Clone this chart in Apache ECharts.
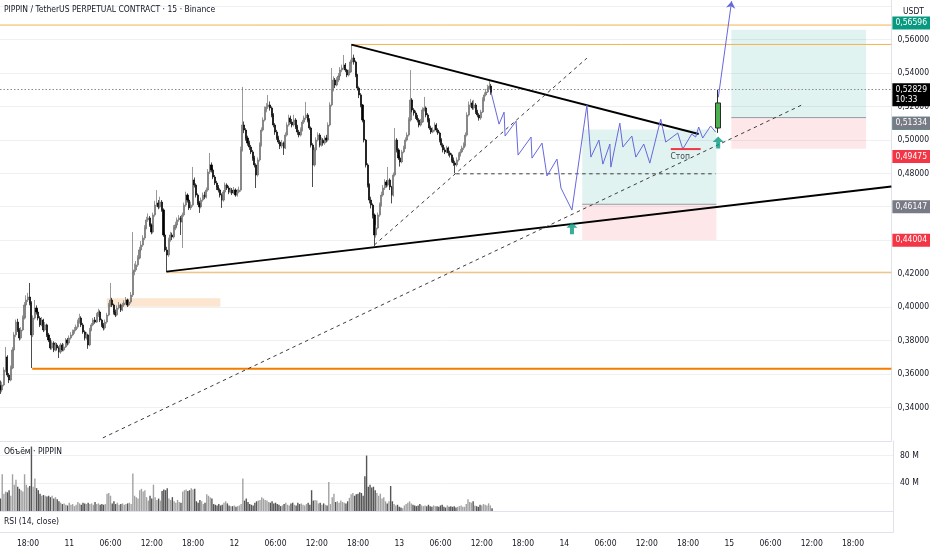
<!DOCTYPE html>
<html><head><meta charset="utf-8">
<script src="https://cdn.jsdelivr.net/npm/echarts@6/dist/echarts.min.js"></script>
<style>html,body{margin:0;padding:0;background:#fff}#c{width:932px;height:550px}</style>
</head><body><div id="c"></div>
<script>
// ---------------- DATA ----------------
// time unit: hours since 10 Jan 00:00 ; 15-minute candles
const candleStartHour = 14;
const candleStepHours = 0.25;
// prices in 1e-4 USDT
const firstOpen = 3530;
const closes = [
3504,3534,3623,3701,3593,3563,3635,3743,3833,3910,
3863,3815,3863,3934,4012,4042,4060,4024,3833,3934,
3994,3970,3934,3893,3922,3863,3893,3833,3803,3755,
3785,3743,3773,3755,3731,3773,3743,3761,3803,3785,
3815,3833,3851,3863,3881,3910,3934,3893,3851,3815,
3833,3773,3863,3893,3922,3910,3952,3970,3922,3893,
3875,3910,3952,4012,4042,4012,3970,3952,3994,4012,
3982,4012,4024,4042,4012,4030,4072,4210,4222,4252,
4293,4341,4371,4413,4473,4521,4533,4491,4449,4551,
4610,4622,4599,4628,4581,4431,4341,4311,4401,4431,
4419,4473,4491,4521,4533,4509,4551,4610,4670,4640,
4593,4610,4760,4730,4670,4622,4599,4640,4670,4658,
4700,4808,4850,4820,4778,4742,4718,4700,4670,4640,
4688,4730,4712,4688,4700,4682,4700,4670,4688,4700,
4940,5089,5059,5011,4981,4957,4928,4892,4850,4790,
4880,4969,5059,5119,5179,5197,5209,5191,5149,5089,
5047,5011,4987,4963,4981,4952,5029,5089,5131,5107,
5089,5119,5077,5047,5029,5059,5107,5131,5149,5119,
5071,4969,4850,4940,4999,5029,4969,4999,4981,5011,
4999,5089,5209,5299,5358,5328,5358,5382,5418,5430,
5448,5418,5388,5406,5466,5490,5466,5388,5310,5269,
5209,5119,4999,4850,4730,4640,4610,4551,4431,4473,
4551,4610,4670,4712,4748,4730,4760,4718,4670,4790,
4999,4940,4892,4868,4928,4952,4999,5029,5119,5239,
5179,5161,5137,5119,5089,5107,5179,5191,5149,5119,
5071,5047,5059,5089,5059,5041,4999,4969,4940,4928,
4952,4922,4910,4880,4862,4850,4880,4910,4928,4952,
4969,5029,5149,5209,5221,5191,5209,5167,5149,5131,
5167,5239,5269,5287,5310,5322,5282.9
];
const highs = [
3560,3552,3640,3761,3712,3605,3650,3760,3850,3925,
3930,3875,3880,3950,4030,4070,4085,4144,4035,3950,
4042,4010,3985,3945,3940,3930,3910,3900,3845,3815,
3800,3795,3790,3785,3765,3785,3785,3780,3815,3815,
3830,3850,3865,3880,3895,3925,3960,3945,3905,3860,
3850,3840,3875,3905,3935,3940,3965,3990,3980,3930,
3905,3925,3965,4025,4144,4055,4020,3985,4010,4030,
4020,4025,4040,4060,4050,4045,4090,4449,4260,4275,
4310,4360,4395,4430,4490,4540,4560,4545,4500,4565,
4635,4700,4640,4660,4640,4590,4445,4360,4415,4450,
4445,4490,4510,4535,4550,4545,4565,4625,4690,4680,
4650,4630,4838,4775,4740,4680,4635,4655,4685,4690,
4715,4825,4922,4865,4830,4790,4755,4730,4710,4680,
4700,4745,4740,4725,4715,4712,4718,4710,4705,4720,
4960,5317,5110,5070,5025,4995,4970,4940,4905,4860,
4895,4985,5075,5135,5200,5220,5269,5230,5200,5160,
5100,5060,5025,5000,5000,4990,5045,5105,5150,5145,
5125,5150,5130,5090,5060,5075,5120,5145,5227,5160,
5130,5080,4980,4955,5015,5045,5040,5015,5010,5025,
5030,5105,5225,5430,5380,5370,5375,5400,5435,5450,
5508,5460,5425,5420,5480,5570,5510,5475,5395,5320,
5280,5215,5125,5005,4860,4740,4660,4620,4560,4490,
4565,4625,4690,4730,4765,4760,4838,4770,4725,4805,
5071,5010,4950,4905,4940,4965,5015,5045,5135,5418,
5250,5190,5175,5150,5130,5125,5195,5257,5200,5160,
5130,5085,5075,5105,5100,5070,5050,5010,4980,4955,
4965,4960,4935,4920,4895,4875,4895,4925,4945,4965,
4985,5045,5165,5230,5245,5235,5240,5220,5180,5160,
5180,5255,5285,5305,5330,5358,5335
];
const lows = [
3480,3490,3525,3610,3580,3545,3555,3628,3735,3820,
3850,3800,3805,3855,3925,4000,4030,4010,3635,3820,
3925,3955,3920,3880,3885,3850,3855,3820,3790,3745,
3745,3730,3735,3740,3695,3720,3735,3735,3755,3770,
3775,3805,3825,3840,3855,3870,3900,3880,3840,3800,
3805,3750,3765,3855,3885,3900,3905,3940,3910,3880,
3860,3865,3900,3945,4000,4000,3955,3940,3945,3985,
3970,3975,4000,4015,4000,4005,4020,4060,4190,4210,
4240,4285,4330,4360,4400,4465,4510,4480,4435,4440,
4540,4600,4585,4590,4570,4420,4330,4210,4300,4390,
4400,4410,4460,4480,4510,4431,4353,4540,4600,4625,
4580,4580,4600,4715,4655,4610,4563,4590,4630,4645,
4650,4690,4795,4805,4765,4730,4700,4685,4655,4593,
4630,4680,4700,4675,4680,4670,4675,4660,4660,4680,
4690,4930,5040,4995,4965,4940,4915,4875,4835,4712,
4780,4870,4960,5050,5110,5165,5185,5175,5135,5075,
5030,5000,4975,4945,4950,4910,4945,5020,5080,5095,
5075,5080,5065,5030,5015,5020,5050,5095,5120,5105,
5060,4955,4718,4840,4930,4990,4955,4960,4965,4970,
4985,4990,5080,5200,5290,5310,5320,5345,5370,5405,
5420,5405,5375,5380,5400,5455,5450,5375,5295,5250,
5195,5105,4985,4835,4715,4620,4590,4530,4365,4415,
4465,4540,4600,4660,4700,4715,4720,4700,4620,4660,
4780,4925,4880,4840,4860,4920,4945,4990,5020,5110,
5165,5145,5125,5105,5075,5080,5100,5170,5135,5105,
5060,5035,5040,5050,5045,5030,4985,4955,4925,4915,
4920,4905,4895,4865,4845,4800,4840,4870,4900,4920,
4940,4960,5020,5140,5195,5180,5180,5155,5135,5115,
5120,5160,5230,5260,5280,5300,5270
];
// volume, millions
const volumesM = [
18,53,25,28,27,30,22,53,38,45,
35,32,30,28,53,38,34,36,93,35,
47,33,30,25,22,23,22,21,22,20,
22,18,20,17,14,12,10,11,9,8,
12,9,10,7,9,13,11,9,12,11,
10,12,10,11,9,13,10,11,9,10,
9,10,25,26,22,11,14,10,12,9,
10,11,9,10,11,12,10,54,22,20,
18,30,32,28,30,20,15,22,18,38,
20,16,18,15,29,31,30,33,18,16,
20,14,12,16,13,12,28,30,31,29,
30,33,31,32,14,12,16,14,10,12,
24,22,20,18,10,9,8,10,8,9,
12,14,11,8,7,7,8,6,7,8,
10,47,15,18,13,10,9,8,12,14,
15,16,20,18,16,15,13,12,14,11,
12,10,9,7,8,10,12,9,8,11,
12,9,8,12,10,11,9,8,10,12,
9,30,15,16,15,11,12,9,11,9,
8,42,10,20,25,13,14,12,15,13,
12,11,14,19,24,26,22,24,25,27,
26,22,50,80,35,38,34,35,30,26,
22,25,18,20,14,11,14,36,14,10,
8,9,6,5,4,8,10,12,14,11,
9,8,7,8,10,8,7,8,7,9,
7,6,8,7,7,6,8,9,6,5,
8,6,7,6,7,5,6,7,8,6,
6,10,17,13,12,14,8,7,6,9,
8,10,9,8,11,8,4
];

// axis ticks
const priceLabelTicks = [0.34,0.36,0.38,0.40,0.42,0.44,0.46,0.48,0.50,0.52,0.54,0.56];
const priceGridTicks = [0.34,0.36,0.38,0.40,0.42,0.44,0.46,0.48,0.50,0.52,0.54,0.56,0.58];
const timeTicks = [18,24,30,36,42,48,54,60,66,72,78,84,90,96,102,108,114,120,126,132,138];
const volumeTicks = [40,80];
const X_MIN = 13.927, X_MAX = 143.82;
const Y_MIN = 0.31984, Y_MAX = 0.58369;
const currentCountdown = '10:33';

// drawings (time in hours, price in USDT)
const blackTrendLines = [
  [[65.13, 0.5570], [115.74, 0.5035]],
  [[38.17, 0.4212], [143.82, 0.4721]]
];
const dashedLines = [
  [[28.91, 0.3217], [130.72, 0.5208]],
  [[68.47, 0.4371], [99.45, 0.5489]],
  [[80.40, 0.4797], [118.20, 0.4797]]
];
const orangeLevels = [   // [startHour, price]
  [X_MIN, 0.5687],
  [65.13, 0.5571],
  [38.17, 0.4208]
];
const supportLevel = [18.62, 0.3631];
const orangeZone = [[29.49, 0.4002], [46.03, 0.4052]];
// long positions: [startHour, endHour, entry, target, stop]
const positions = [
  [98.77, 118.32, 0.46147, 0.50620, 0.44004],
  [120.50, 140.13, 0.51334, 0.56596, 0.49475]
];
const projectionPath = [
  [85.50,0.5283],[86.65,0.5094],[87.38,0.5166],[87.53,0.5023],[89.13,0.5112],[89.42,0.4909],
  [91.31,0.5017],[91.45,0.4891],[92.91,0.4981],[93.63,0.4784],[95.09,0.4885],[95.67,0.4712],
  [97.27,0.4580],[99.45,0.5208],[100.03,0.4897],[101.20,0.4999],[101.78,0.4855],[102.80,0.4975],
  [102.94,0.4837],[104.25,0.5100],[104.69,0.4957],[106.00,0.5023],[106.58,0.4897],[107.74,0.4975],
  [108.62,0.4861],[110.21,0.5124],[110.94,0.4987],[112.69,0.5041],[113.42,0.4945],[114.72,0.5035],
  [115.30,0.5017],[115.74,0.5077],[116.32,0.5011],[117.48,0.5083],[118.21,0.5047]
];
const breakoutCandle = [118.55, 0.5071, 0.5221, 0.5042, 0.5299]; // t, o, c, l, h
const targetArrow = [[118.60, 0.5255], [120.54, 0.5830]];
const entryArrows = [[97.27, 0.4472], [118.58, 0.4984]];
const stopLine = [[111.67, 0.4945], [116.03, 0.4945]];
const stopLabel = [113.05, 0.4900, 'Стоп'];

// ---------------- CHART ----------------
const FONT = "'Liberation Sans Narrow','DejaVu Sans Condensed',Roboto,sans-serif";
const FS = 8.5;
const TXT = '#131722';
const GREEN = '#089981', RED = '#f23645', GREY = '#787b86';
const PATH_COLOR = '#6767de';
const fmtPrice = v => v.toFixed(5).replace('.', ',');
const P = v => v / 10000;

const candleData = closes.map((c, i) => {
  const o = i === 0 ? firstOpen : closes[i - 1];
  return [candleStartHour + i * candleStepHours, P(o), P(c), P(lows[i]), P(highs[i])];
});
const volData = volumesM.map((v, i) => {
  const o = i === 0 ? firstOpen : closes[i - 1];
  return { value: [candleStartHour + i * candleStepHours, v],
           itemStyle: { color: closes[i] >= o ? '#a2a2a2' : '#555555' } };
});
const lastClose = P(closes[closes.length - 1]);

function seg(points, style, z) {
  return { type: 'line', xAxisIndex: 0, yAxisIndex: 0, data: points, symbol: 'none',
           showSymbol: false, silent: true, lineStyle: style, z: z || 4 };
}
const series = [];

// areas (zone + position boxes)
const areaData = [[{ coord: orangeZone[0], itemStyle: { color: 'rgba(242,140,40,0.22)' } }, { coord: orangeZone[1] }]];
positions.forEach(p => {
  areaData.push([{ coord: [p[0], p[2]], itemStyle: { color: 'rgba(8,153,129,0.12)' } }, { coord: [p[1], p[3]] }]);
  areaData.push([{ coord: [p[0], p[4]], itemStyle: { color: 'rgba(242,54,69,0.12)' } }, { coord: [p[1], p[2]] }]);
});
// tags on price axis
const tagData = [];
function tag(price, color, text) {
  tagData.push({ yAxis: price, lineStyle: { color: 'rgba(0,0,0,0)' },
    label: { show: true, position: 'end', distance: 1, formatter: text || fmtPrice(price),
      backgroundColor: color, color: '#fff', padding: [2, 3, 1, 3], fontSize: FS, fontFamily: FONT, lineHeight: 10 } });
}
positions.forEach(p => { tag(p[3], GREEN); tag(p[2], GREY); tag(p[4], RED); });
tagData.push({ yAxis: lastClose, lineStyle: { color: '#8a8d96', type: [1.5, 2], width: 1 },
  label: { show: true, position: 'end', distance: 1, formatter: fmtPrice(lastClose) + '\n' + currentCountdown,
    backgroundColor: '#000', color: '#fff', padding: [2, 3, 1, 3], fontSize: FS, fontFamily: FONT, lineHeight: 10, offset: [0, 5] } });

series.push({ type: 'line', xAxisIndex: 0, yAxisIndex: 0, data: [], z: 1, silent: true,
  markArea: { silent: true, data: areaData } });

orangeLevels.forEach(l => series.push(seg([[l[0], l[1]], [X_MAX, l[1]]], { color: '#f3b24f', width: 1 }, 3)));
series.push(seg([[supportLevel[0], supportLevel[1]], [X_MAX, supportLevel[1]]], { color: '#f57c00', width: 2 }, 3));
positions.forEach(p => series.push(seg([[p[0], p[2]], [p[1], p[2]]], { color: '#9a9ca5', width: 1 }, 3)));

series.push({ type: 'candlestick', xAxisIndex: 0, yAxisIndex: 0, data: candleData,
  encode: { x: 0, y: [1, 2, 3, 4] }, barWidth: 1.6, z: 5,
  itemStyle: { color: '#858585', color0: '#000000', borderColor: '#6f6f6f', borderColor0: '#000000', borderWidth: 0.7 } });

blackTrendLines.forEach(l => series.push(seg(l, { color: '#000', width: 1.9 }, 6)));
dashedLines.forEach(l => series.push(seg(l, { color: '#3d3d3d', width: 1, type: [3.5, 3.5] }, 6)));

series.push(seg(projectionPath, { color: PATH_COLOR, width: 1 }, 7));
series.push({ type: 'lines', coordinateSystem: 'cartesian2d', xAxisIndex: 0, yAxisIndex: 0, silent: true, z: 7,
  data: [{ coords: targetArrow }], symbol: ['none', 'arrow'], symbolSize: 7,
  lineStyle: { color: PATH_COLOR, width: 1, opacity: 1 } });
series.push({ type: 'candlestick', xAxisIndex: 0, yAxisIndex: 0, data: [breakoutCandle],
  encode: { x: 0, y: [1, 2, 3, 4] }, barWidth: 6, z: 8,
  itemStyle: { color: '#4caf50', color0: '#4caf50', borderColor: '#2b2b2b', borderColor0: '#2b2b2b', borderWidth: 1 } });
series.push(seg(stopLine, { color: RED, width: 2 }, 7));
series.push({ type: 'scatter', xAxisIndex: 0, yAxisIndex: 0, data: entryArrows, z: 9, silent: true,
  symbol: 'path://M6,0 L12,6 L8.2,6 L8.2,13 L3.8,13 L3.8,6 L0,6 Z', symbolSize: [11, 12],
  itemStyle: { color: GREEN } });
series.push({ type: 'scatter', xAxisIndex: 0, yAxisIndex: 0, data: [[stopLabel[0], stopLabel[1]]], z: 9, silent: true,
  symbolSize: 0, label: { show: true, position: 'inside', formatter: stopLabel[2], color: TXT, fontSize: FS, fontFamily: FONT } });

series.push({ type: 'line', xAxisIndex: 0, yAxisIndex: 0, data: [], z: 20, silent: true,
  markLine: { silent: true, symbol: 'none', data: tagData } });

series.push({ type: 'bar', xAxisIndex: 1, yAxisIndex: 1, data: volData, barWidth: 1.4, silent: true });

const axisLineStyle = { show: true, lineStyle: { color: '#e0e3eb', width: 1 } };
const xBase = { type: 'value', min: X_MIN, max: X_MAX, splitLine: { show: false }, axisTick: { show: false },
  axisLabel: { show: false }, axisLine: axisLineStyle };

const option = {
  animation: false,
  backgroundColor: '#fff',
  textStyle: { fontFamily: FONT },
  title: [
    { text: 'PIPPIN / TetherUS PERPETUAL CONTRACT · 15 · Binance', left: 4, top: 5, padding: 0,
      textStyle: { fontSize: FS, fontWeight: 'normal', color: TXT, fontFamily: FONT } },
    { text: 'Объём · PIPPIN', left: 4, top: 447, padding: 0, textStyle: { fontSize: FS, fontWeight: 'normal', color: TXT, fontFamily: FONT } },
    { text: 'RSI (14, close)', left: 4, top: 517, padding: 0, textStyle: { fontSize: FS, fontWeight: 'normal', color: TXT, fontFamily: FONT } },
    { text: 'USDT', left: 903, top: 7, padding: 0, textStyle: { fontSize: FS, fontWeight: 'normal', color: TXT, fontFamily: FONT } }
  ],
  grid: [
    { left: 0, right: 39, top: 0, height: 441 },
    { left: 0, right: 39, top: 441, height: 70 },
    { left: 0, right: 39, top: 511, height: 21 }
  ],
  xAxis: [
    Object.assign({}, xBase, { gridIndex: 0 }),
    Object.assign({}, xBase, { gridIndex: 1 }),
    Object.assign({}, xBase, { gridIndex: 2, axisLabel: { show: true, customValues: timeTicks, margin: 7,
      fontSize: FS, color: TXT, fontFamily: FONT,
      formatter: h => h % 24 === 0 ? String(10 + h / 24) : String(h % 24).padStart(2, '0') + ':00' } })
  ],
  yAxis: [
    { gridIndex: 0, type: 'value', position: 'right', min: Y_MIN, max: Y_MAX, axisLine: axisLineStyle,
      axisTick: { show: false, customValues: priceGridTicks },
      splitLine: { show: true, lineStyle: { color: '#eef0f4', width: 1 } },
      axisLabel: { customValues: priceLabelTicks, formatter: fmtPrice, margin: 6, fontSize: FS, color: TXT, fontFamily: FONT } },
    { gridIndex: 1, type: 'value', position: 'right', min: 0, max: 101, axisLine: axisLineStyle,
      axisTick: { show: false, customValues: volumeTicks },
      splitLine: { show: true, lineStyle: { color: '#eef0f4', width: 1 } },
      axisLabel: { customValues: volumeTicks, formatter: v => v + ' M', margin: 7, fontSize: FS, color: TXT, fontFamily: FONT } },
    { gridIndex: 2, type: 'value', position: 'right', min: 0, max: 100, axisLine: axisLineStyle,
      axisTick: { show: false }, splitLine: { show: false }, axisLabel: { show: false } }
  ],
  series: series
};
const chart = echarts.init(document.getElementById('c'));
chart.setOption(option);
</script>
</body></html>
